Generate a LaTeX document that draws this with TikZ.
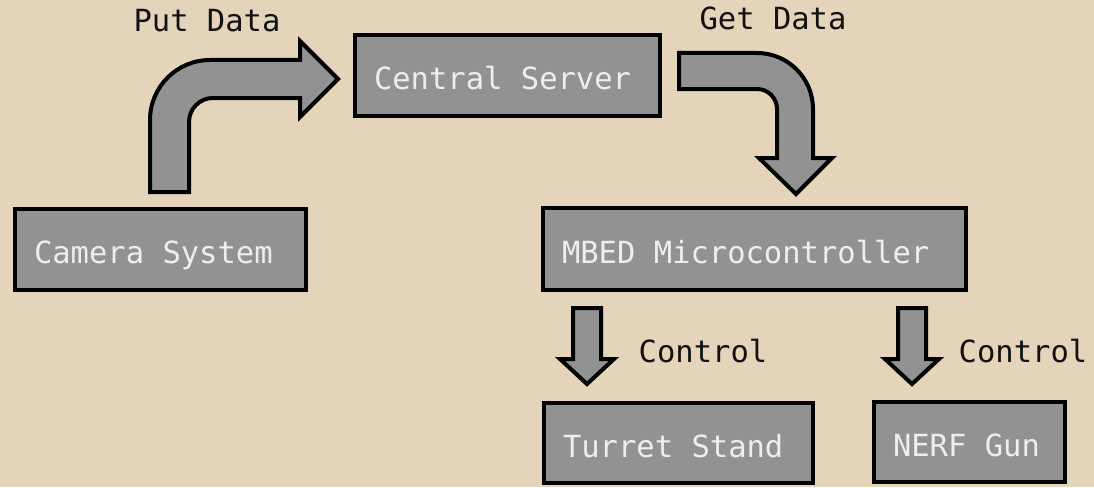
\documentclass[tikz,border=0pt]{standalone}
\usepackage{fontspec}
\setmonofont{DejaVu Sans Mono}
\definecolor{bg}{HTML}{E4D4BA}
\definecolor{boxfill}{HTML}{929292}
\definecolor{boxtext}{HTML}{EEEEEE}
\definecolor{labeltext}{HTML}{111111}
\newcommand{\boxline}[1]{\mbox{\spaceskip=0pt\xspaceskip=0pt #1}\hfill}
\tikzset{
  box/.style={draw=black, fill=boxfill, line width=4pt, text=boxtext,
    font=\ttfamily\fontsize{30.5}{36}\selectfont, inner xsep=19pt, inner ysep=0pt,
    text height=28pt, text depth=0pt},
  lbl/.style={text=labeltext, font=\ttfamily\fontsize{30.5}{36}\selectfont,
    inner sep=0pt, anchor=base},
  blockarrow/.style={draw=black, fill=boxfill, line width=4pt, line join=miter}
}
\begin{document}
\begin{tikzpicture}[x=1pt, y=-1pt]
\useasboundingbox (0,0) rectangle (1094,487);
\fill[bg] (0,0) rectangle (1094,487);

% boxes
\node[box, minimum width=291pt, minimum height=81pt, text width=253pt] (cam) at (160.5,249) {\boxline{Camera System}};
\node[box, minimum width=305pt, minimum height=81pt, text width=267pt] (server) at (507.5,75.5) {\boxline{Central Server}};
\node[box, minimum width=423pt, minimum height=82pt, text width=385pt] (mbed) at (754.5,249) {\boxline{MBED Microcontroller}};
\node[box, minimum width=269pt, minimum height=80pt, text width=231pt] (turret) at (678.5,443) {\boxline{Turret Stand}};
\node[box, minimum width=191pt, minimum height=80pt, text width=153pt] (nerf) at (969.5,442) {\boxline{NERF Gun}};

% labels
\node[lbl] (putlbl) at (207,32) {Put Data};
\node[lbl] (getlbl) at (773,30) {Get Data};
\node[lbl] (ctl1) at (703,362) {Control};
\node[lbl] (ctl2) at (1023,362) {Control};

% Put Data arrow (camera -> server)
\draw[blockarrow] (150,192) -- (150,120)
  .. controls (150,86.9) and (176.9,60) .. (210,60)
  -- (300,60) -- (300,41) -- (338,79) -- (300,117) -- (300,98)
  -- (213,98) .. controls (199.7,98) and (189,108.7) .. (189,122)
  -- (189,192) -- cycle;

% Get Data arrow (server -> mbed)
\draw[blockarrow] (679,53) -- (757,53)
  .. controls (787.9,53) and (813,78.1) .. (813,109)
  -- (813,158) -- (832,158) -- (796,194) -- (759,158) -- (777,158)
  -- (777,109) .. controls (777,98) and (768,89) .. (757,89)
  -- (679,89) -- cycle;

% Control arrows
\draw[blockarrow] (573,308) -- (601,308) -- (601,359) -- (614,359) -- (587,384)
  -- (560,359) -- (573,359) -- cycle;
\draw[blockarrow] (898,308) -- (926,308) -- (926,359) -- (939,359) -- (912,384)
  -- (885,359) -- (898,359) -- cycle;
\end{tikzpicture}
\end{document}
